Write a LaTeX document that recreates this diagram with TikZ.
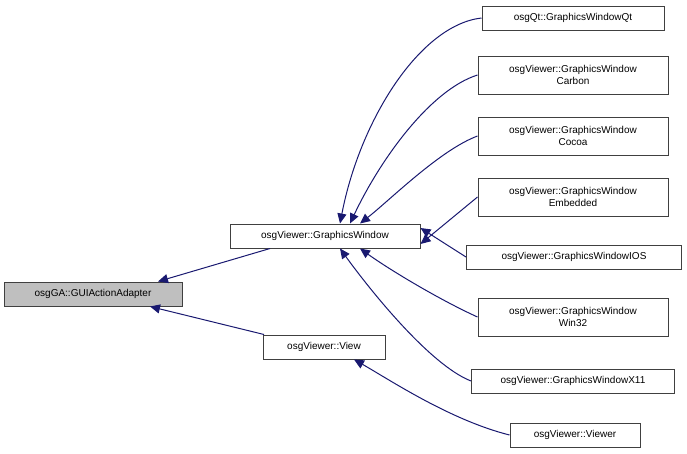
\documentclass[tikz,border=0pt]{standalone}
\usepackage{fontspec}
\setmainfont{Liberation Sans}
\usetikzlibrary{arrows.meta}
\definecolor{edge}{RGB}{25,25,112}
\begin{document}
\begin{tikzpicture}[x=1pt,y=-1pt,
  box/.style={draw=black!75,line width=1pt,fill=white,inner sep=0pt,align=center,font=\fontsize{10}{11.5}\selectfont},
  e/.style={draw=edge,line width=1pt,-{Triangle[length=10pt,width=9pt,fill=edge]}}]
\useasboundingbox (0,0) rectangle (687,453);
\node[box,fill=black!25,minimum width=178,minimum height=24] (gui) at (93,294) {osgGA::GUIActionAdapter};
\node[box,minimum width=190,minimum height=24] (gw) at (325,236) {osgViewer::GraphicsWindow};
\node[box,minimum width=122,minimum height=24] (view) at (324,347) {osgViewer::View};
\node[box,minimum width=182,minimum height=24] (qt) at (573,18) {osgQt::GraphicsWindowQt};
\node[box,minimum width=190,minimum height=38] (carbon) at (573,75) {osgViewer::GraphicsWindow\\Carbon};
\node[box,minimum width=190,minimum height=38] (cocoa) at (573,136) {osgViewer::GraphicsWindow\\Cocoa};
\node[box,minimum width=190,minimum height=38] (emb) at (573,197) {osgViewer::GraphicsWindow\\Embedded};
\node[box,minimum width=215,minimum height=24] (ios) at (574,257) {osgViewer::GraphicsWindowIOS};
\node[box,minimum width=190,minimum height=38] (win) at (573,317) {osgViewer::GraphicsWindow\\Win32};
\node[box,minimum width=203,minimum height=24] (x11) at (573,381) {osgViewer::GraphicsWindowX11};
\node[box,minimum width=130,minimum height=24] (viewer) at (575,435) {osgViewer::Viewer};
\draw[e] ([xshift=-55pt]gw.south) -- ([xshift=65pt]gui.north);
\draw[e] ([xshift=-60pt]view.north) -- ([xshift=57pt]gui.south);
\draw[e] (qt.west) .. controls (420,25) and (360,120) .. ([xshift=15pt]gw.north);
\draw[e] (carbon.west) .. controls (430,90) and (380,160) .. ([xshift=25pt]gw.north);
\draw[e] (cocoa.west) .. controls (440,150) and (390,200) .. ([xshift=35pt]gw.north);
\draw[e] (emb.west) -- ([yshift=-8pt]gw.east);
\draw[e] (ios.west) -- ([yshift=8pt]gw.east);
\draw[e] (win.west) .. controls (440,300) and (390,270) .. ([xshift=35pt]gw.south);
\draw[e] (x11.west) .. controls (430,365) and (370,290) .. ([xshift=15pt]gw.south);
\draw[e] (viewer.west) .. controls (450,420) and (390,380) .. ([xshift=30pt]view.south);
\end{tikzpicture}
\end{document}
